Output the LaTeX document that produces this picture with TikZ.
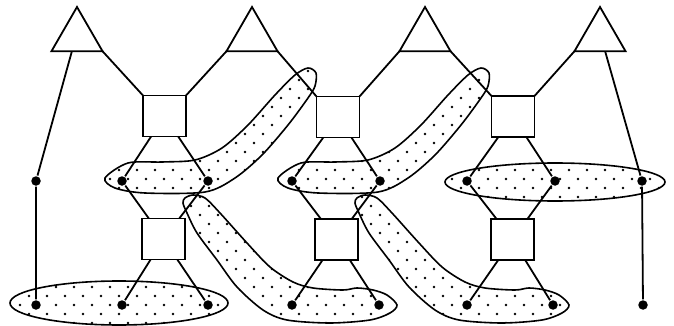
\documentclass[tikz,border=0pt]{standalone}
\usetikzlibrary{calc,patterns,shapes.geometric}
\pgfdeclarepatternformonly{sparse dots}{\pgfqpoint{-1pt}{-1pt}}{\pgfqpoint{19pt}{19pt}}{\pgfqpoint{18pt}{18pt}}{%
  \pgfpathcircle{\pgfqpoint{2pt}{3pt}}{1.3pt}\pgfpathcircle{\pgfqpoint{11pt}{12pt}}{1.3pt}\pgfusepath{fill}}
\begin{document}
\begin{tikzpicture}[x=1pt,y=-1pt,line width=1.8pt,
tri/.style={regular polygon,regular polygon sides=3,draw,minimum size=59pt,inner sep=0pt,outer sep=0pt},
box/.style={rectangle,draw,fill=white,minimum width=43pt,minimum height=41pt,inner sep=0pt,outer sep=0pt},
dot/.style={circle,fill,minimum size=9.5pt,inner sep=0pt},
hyper/.style={draw,line width=1.6pt,preaction={fill=white},pattern=sparse dots}]
\useasboundingbox (0,0) rectangle (674,326);
\draw[hyper] (119,303) ellipse [x radius=109,y radius=22];
\draw[hyper] (555,182) ellipse [x radius=110,y radius=19];
\foreach \dx in {0,173}
  \draw[hyper,xshift=\dx pt] plot[smooth cycle] coordinates {(105,178) (128,163) (162,162) (195,160) (222,148) (248,125) (275,95) (295,75) (308,68) (316,73) (315,86) (308,98) (288,125) (262,155) (235,178) (205,192) (145,193) (115,188)};
\foreach \dx in {0,172}
  \draw[hyper,xshift=\dx pt] plot[smooth cycle] coordinates {(185,198) (193,195) (205,198) (220,213) (247,243) (270,267) (293,282) (313,288) (343,290) (357,288) (373,290) (387,295) (397,305) (390,313) (370,320) (330,323) (287,320) (263,310) (237,287) (217,260) (197,233) (187,213) (183,203)};
\foreach \x [count=\i] in {77,252,425,600}
  \node[tri] (t\i) at (\x,36.5) {};
\node[box] (u1) at (164.5,116) {};
\node[box] (u2) at (338,117) {};
\node[box] (u3) at (513,116.5) {};
\node[box] (l1) at (163.5,239) {};
\node[box] (l2) at (336.5,239.5) {};
\node[box] (l3) at (512.5,239.5) {};
\foreach \x [count=\i] in {36,122,208,292,380,467,555,642}
  \node[dot] (a\i) at (\x,181) {};
\foreach \x [count=\i] in {36,122,208,292,379,467,553,643}
  \node[dot] (b\i) at (\x,305) {};
\draw (t1.corner 3) -- (u1.north west);
\draw (t2.corner 2) -- (u1.north east);
\draw (t2.corner 3) -- (u2.north west);
\draw (t3.corner 2) -- (u2.north east);
\draw (t3.corner 3) -- (u3.north west);
\draw (t4.corner 2) -- (u3.north east);
\draw ($(t1.corner 2)!0.4!(t1.corner 3)$) -- (a1) -- (b1);
\draw ($(t4.corner 2)!0.6!(t4.corner 3)$) -- (a8) -- (b8);
\foreach \i/\j/\k in {1/2/3,2/4/5,3/6/7}{
  \draw (a\j) -- (u\i) -- (a\k);
  \draw (a\j) -- (l\i) -- (a\k);
  \draw (b\j) -- (l\i) -- (b\k);
}
\end{tikzpicture}
\end{document}
